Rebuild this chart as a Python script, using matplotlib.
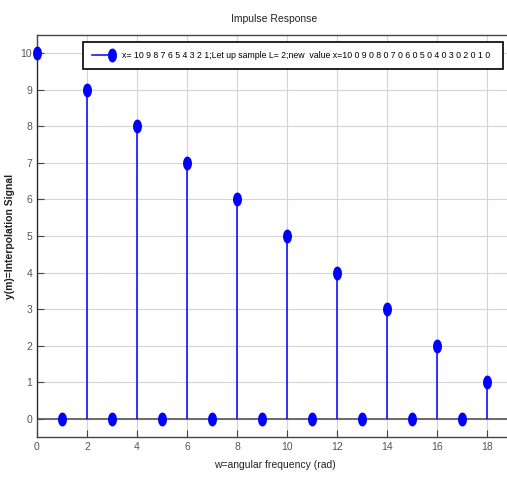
import numpy as np
import matplotlib
matplotlib.use('Agg')
import matplotlib.pyplot as plt
from matplotlib.path import Path
from matplotlib.lines import Line2D

# data: upsampled sequence (L=2)
n = list(range(20))
y = [10, 0, 9, 0, 8, 0, 7, 0, 6, 0, 5, 0, 4, 0, 3, 0, 2, 0, 1, 0]
xticks = [0, 2, 4, 6, 8, 10, 12, 14, 16, 18]
yticks = [0, 1, 2, 3, 4, 5, 6, 7, 8, 9, 10]
legend_text = ('x= 10 9 8 7 6 5 4 3 2 1;Let up sample L= 2;new  value '
               'x=10 0 9 0 8 0 7 0 6 0 5 0 4 0 3 0 2 0 1 0')

plt.rcParams['font.family'] = ['Liberation Sans', 'DejaVu Sans']

BLUE = '#0000ff'
GRAYTXT = '#555555'
STEM_LW = 1.1

# tall ellipse marker (stretched circle, as in the screenshot)
t = np.linspace(0, 2 * np.pi, 40)
ell = Path(np.column_stack([0.6 * np.cos(t), np.sin(t)]), closed=True)
MS = 9


class StemHandler:
    """MATLAB-like stem legend: short line with the marker at its right end."""
    def legend_artist(self, legend, orig_handle, fontsize, handlebox):
        x0, y0 = handlebox.xdescent, handlebox.ydescent
        w, h = handlebox.width, handlebox.height
        tr = handlebox.get_transform()
        ln = Line2D([x0, x0 + w], [y0 + h / 2] * 2, color=BLUE, lw=STEM_LW, transform=tr)
        mk = Line2D([x0 + w], [y0 + h / 2], marker=ell, ms=MS, color=BLUE,
                    ls='none', transform=tr)
        handlebox.add_artist(ln)
        handlebox.add_artist(mk)
        return ln


fig = plt.figure(figsize=(5.07, 4.82), dpi=100)
ax = fig.add_axes([37 / 507, 45 / 482, 475 / 507, 402 / 482])

ml, sl, bl = ax.stem(n, y, linefmt='-', markerfmt='o', basefmt='-')
plt.setp(sl, color=BLUE, linewidth=STEM_LW, zorder=3)
plt.setp(ml, color=BLUE, marker=ell, markersize=MS, markerfacecolor=BLUE,
         markeredgecolor=BLUE, zorder=4)
plt.setp(bl, color='#555555', linewidth=1.2)
ml.set_clip_on(False)

ax.set_xlim(0, 19)
ax.set_ylim(-0.5, 10.5)
ax.set_xticks(xticks)
ax.set_yticks(yticks)
ax.grid(True, color='#d4d4d4', linewidth=0.8)
ax.set_axisbelow(True)
ax.tick_params(direction='in', length=5, colors='#444444', labelcolor=GRAYTXT, labelsize=7.5)
for s in ax.spines.values():
    s.set_color('#444444')
    s.set_linewidth(1.0)

ax.set_title('Impulse Response', fontsize=7.5, color='#222222', pad=9)
ax.set_xlabel('w=angular frequency (rad)', fontsize=7.5, color='#222222', labelpad=6)
ax.set_ylabel('y(m)=Interpolation Signal', fontsize=7.5, color='#222222', fontweight='bold',
              labelpad=4)

leg = ax.legend(handles=[ml], labels=[legend_text], handler_map={type(ml): StemHandler()},
                loc='upper left', mode='expand',
                bbox_to_anchor=(46 / 475, 1 - 7 / 402, 420 / 475, 0.0),
                borderaxespad=0, fontsize=6.3, frameon=True, fancybox=False, framealpha=1,
                edgecolor='black', handlelength=2.3, borderpad=1.0, handletextpad=1.1)
leg.get_frame().set_linewidth(1.2)
leg.set_zorder(6)

fig.savefig('out.png', dpi=100)
